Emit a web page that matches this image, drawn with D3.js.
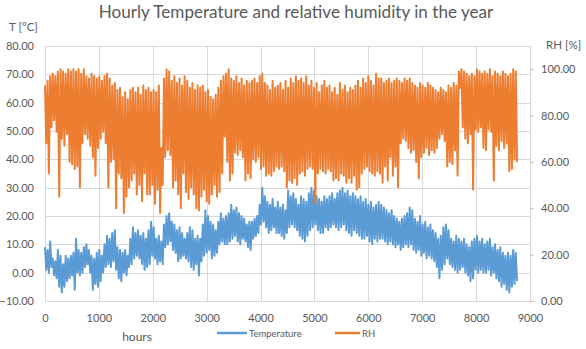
<!DOCTYPE html>
<html><head><meta charset="utf-8">
<script src="https://cdn.jsdelivr.net/npm/d3@7"></script>
<style>
body{margin:0;background:#fff}
text{font-family:Lato,"Liberation Sans",sans-serif;fill:#595959}
</style>
</head><body>
<svg id="c" width="586" height="349"></svg>
<script>
const chartTitle = "Hourly Temperature and relative humidity in the year";
const xTicks = [0,1000,2000,3000,4000,5000,6000,7000,8000,9000];
const tTicks = [-10,0,10,20,30,40,50,60,70,80];
const rhTicks = [0,20,40,60,80,100];
const seriesNames = ["Temperature","RH"];
const sampleStepHours = 48; // each entry: a 2-day window, high then low

const tempHigh = [
 9, 8, 11, 5, 4, 8, 6, 3, 6, 5,
 6, 7, 12, 8, 7, 9, 10, 8, 6, 5,
 7, 8, 6, 10, 13, 12, 14, 15, 9, 8,
 7, 8, 6, 12, 16, 14, 15, 13, 14, 12,
 15, 18, 16, 12, 13, 11, 17, 20, 21, 18,
 17, 15, 16, 14, 12, 14, 16, 15, 12, 13,
 12, 17, 22, 20, 18, 17, 15, 18, 21, 19,
 20, 21, 24, 22, 23, 21, 20, 19, 17, 18,
 18, 19, 20, 24, 30, 27, 25, 24, 26, 23,
 25, 23, 24, 22, 29, 27, 28, 26, 24, 27,
 26, 25, 28, 30, 29, 27, 26, 25, 27, 26,
 27, 28, 26, 28, 29, 30, 28, 29, 27, 28,
 27, 26, 27, 25, 26, 24, 25, 23, 24, 25,
 24, 23, 22, 21, 22, 20, 19, 18, 19, 20,
 21, 23, 22, 19, 18, 20, 17, 18, 16, 17,
 15, 14, 12, 13, 16, 17, 15, 12, 11, 13,
 12, 11, 12, 10, 9, 11, 12, 13, 11, 12,
 10, 11, 12, 9, 10, 8, 9, 7, 6, 7,
 6, 8, 7
];
const tempLow = [
 1, 0, 2, -1, -2, -5, -7, -5, -3, -2,
 -1, -6, 0, -1, 0, 2, 3, 0, -6, -4,
 -5, -3, 0, 2, 3, 2, 4, 1, -2, -3,
 0, -1, 2, 3, 5, 6, 5, 3, 1, 2,
 3, 6, 5, 3, 4, 3, 9, 10, 11, 8,
 7, 4, 5, 6, 5, 4, 2, 1, 3, -1,
 4, 6, 7, 8, 5, 6, 7, 10, 11, 10,
 10, 11, 12, 13, 11, 10, 12, 11, 9, 8,
 12, 13, 14, 17, 18, 16, 14, 15, 16, 14,
 14, 13, 12, 14, 16, 17, 16, 15, 13, 12,
 11, 13, 15, 16, 17, 15, 14, 14, 16, 15,
 16, 17, 16, 15, 16, 17, 15, 14, 13, 15,
 14, 13, 12, 12, 13, 11, 10, 12, 11, 12,
 12, 11, 10, 11, 10, 9, 10, 8, 9, 10,
 9, 10, 8, 7, 8, 6, 7, 5, 6, 5,
 4, 2, -2, 1, 3, 5, 3, 2, 1, 0,
 1, 2, 0, -1, -3, -2, 1, 0, 1, 0,
 0, 1, -1, 0, -2, -3, -5, -4, -6, -7,
 -5, -4, -3
];
const rhHigh = [
 93, 95, 97, 98, 97, 99, 100, 99, 98, 100,
 99, 100, 99, 100, 98, 100, 97, 96, 98, 97,
 96, 97, 95, 97, 98, 96, 93, 94, 91, 92,
 88, 90, 87, 91, 92, 90, 92, 89, 93, 91,
 92, 90, 91, 90, 93, 66, 96, 100, 99, 95,
 97, 94, 96, 93, 97, 95, 92, 94, 91, 93,
 92, 93, 90, 91, 88, 87, 89, 92, 95, 97,
 98, 100, 96, 95, 97, 94, 96, 93, 95, 94,
 95, 96, 94, 97, 98, 94, 93, 91, 95, 92,
 93, 94, 91, 95, 92, 96, 94, 97, 95, 96,
 94, 97, 93, 95, 92, 94, 90, 93, 95, 92,
 93, 90, 92, 89, 94, 91, 93, 90, 92, 91,
 93, 95, 92, 96, 94, 97, 95, 93, 98, 96,
 96, 94, 95, 96, 94, 95, 96, 95, 94, 96,
 95, 96, 94, 93, 92, 94, 93, 92, 94, 93,
 92, 91, 90, 92, 91, 90, 93, 92, 94, 93,
 99, 100, 99, 98, 97, 98, 97, 100, 99, 98,
 99, 98, 100, 97, 99, 98, 97, 99, 98, 97,
 98, 100, 99
];
const rhLow = [
 68, 55, 75, 78, 73, 45, 70, 67, 72, 60,
 59, 57, 58, 49, 68, 72, 70, 67, 62, 54,
 66, 70, 73, 68, 49, 60, 61, 40, 55, 53,
 38, 45, 49, 52, 55, 46, 50, 43, 55, 46,
 46, 50, 42, 48, 38, 50, 62, 65, 63, 49,
 52, 46, 40, 55, 47, 44, 49, 46, 40, 39,
 45, 48, 43, 42, 46, 50, 45, 47, 55, 71,
 60, 52, 55, 64, 63, 65, 62, 52, 55, 53,
 61, 60, 62, 57, 58, 54, 55, 54, 56, 58,
 57, 58, 56, 49, 52, 51, 53, 50, 55, 56,
 54, 57, 58, 57, 42, 55, 57, 56, 55, 57,
 56, 52, 53, 52, 55, 54, 51, 53, 51, 54,
 48, 49, 55, 57, 58, 56, 55, 54, 56, 55,
 51, 58, 52, 62, 54, 58, 49, 68, 70, 69,
 66, 64, 65, 60, 53, 62, 64, 66, 63, 65,
 64, 66, 70, 72, 69, 58, 60, 59, 65, 54,
 92, 75, 70, 68, 72, 48, 74, 73, 75, 66,
 65, 74, 73, 52, 67, 65, 69, 66, 68, 56,
 57, 61, 60
];

const colors = {Temperature:"#5B9BD5", RH:"#ED7D31"};
const svg = d3.select("#c");
const P = {l:45, r:530, t:46, b:301};

const x = d3.scaleLinear().domain([0,9000]).range([P.l,P.r]);
const yT = d3.scaleLinear().domain([-10,80]).range([P.b,P.t]);
const yR = d3.scaleLinear().domain([0,110]).range([P.b,P.t]);

function toPoints(hi, lo){
  const pts = [];
  hi.forEach((v,i)=>{
    pts.push({h:i*sampleStepHours, v:v});
    pts.push({h:i*sampleStepHours + sampleStepHours/2, v:lo[i]});
  });
  return pts;
}
const tempPts = toPoints(tempHigh, tempLow);
const rhPts = toPoints(rhHigh, rhLow);

// gridlines
const g = svg.append("g");
g.selectAll("line.h").data(tTicks).enter().append("line")
  .attr("x1",P.l).attr("x2",P.r)
  .attr("y1",d=>Math.round(yT(d))+0.5).attr("y2",d=>Math.round(yT(d))+0.5)
  .attr("stroke","#d9d9d9").attr("stroke-width",1);
g.selectAll("line.v").data(xTicks).enter().append("line")
  .attr("y1",P.t).attr("y2",P.b)
  .attr("x1",d=>Math.round(x(d))+0.5).attr("x2",d=>Math.round(x(d))+0.5)
  .attr("stroke","#d9d9d9").attr("stroke-width",1);

// axes
const fmt = d3.format(".2f");
const axL = svg.append("g").attr("transform",`translate(${P.l},0)`)
  .call(d3.axisLeft(yT).tickValues(tTicks).tickFormat(fmt).tickSize(0).tickPadding(11));
const axR = svg.append("g").attr("transform",`translate(${P.r},0)`)
  .call(d3.axisRight(yR).tickValues(rhTicks).tickFormat(fmt).tickSize(4).tickPadding(7));
const axB = svg.append("g").attr("transform",`translate(0,${P.b})`)
  .call(d3.axisBottom(x).tickValues(xTicks).tickFormat(d3.format("d")).tickSize(0).tickPadding(13));
[axL,axR,axB].forEach(a=>{
  a.select(".domain").remove();
  a.selectAll("text").style("font-size","11px").attr("fill","#595959");
  a.selectAll(".tick line").attr("stroke","#bfbfbf");
});

// lines
const lineT = d3.line().x(d=>x(d.h)).y(d=>yT(d.v));
const lineR = d3.line().x(d=>x(d.h)).y(d=>yR(d.v));
svg.append("path").datum(tempPts).attr("d",lineT)
  .attr("fill","none").attr("stroke",colors.Temperature).attr("stroke-width",2).attr("stroke-linejoin","round");
svg.append("path").datum(rhPts).attr("d",lineR)
  .attr("fill","none").attr("stroke",colors.RH).attr("stroke-width",2).attr("stroke-linejoin","round");

// title
const t = svg.append("text").text(chartTitle).attr("x",296).attr("y",18)
  .attr("text-anchor","middle").style("font-size","18px");
const tl = t.node().getComputedTextLength();
t.style("font-size",(18*395/tl)+"px");

svg.append("text").text("T [°C]").attr("x",9).attr("y",31).style("font-size","11.5px");
svg.append("text").text("RH [%]").attr("x",546).attr("y",49).style("font-size","11.5px");
svg.append("text").text("hours").attr("x",137).attr("y",341).attr("text-anchor","middle").style("font-size","12px");

// legend
const leg = [{n:seriesNames[0], x1:217, x2:247, tx:249},{n:seriesNames[1], x1:335, x2:360, tx:362}];
leg.forEach(l=>{
  svg.append("line").attr("x1",l.x1).attr("x2",l.x2).attr("y1",333).attr("y2",333)
    .attr("stroke",colors[l.n]).attr("stroke-width",2.5);
  svg.append("text").text(l.n).attr("x",l.tx).attr("y",336.5).style("font-size","9.5px");
});
</script>
</body></html>
